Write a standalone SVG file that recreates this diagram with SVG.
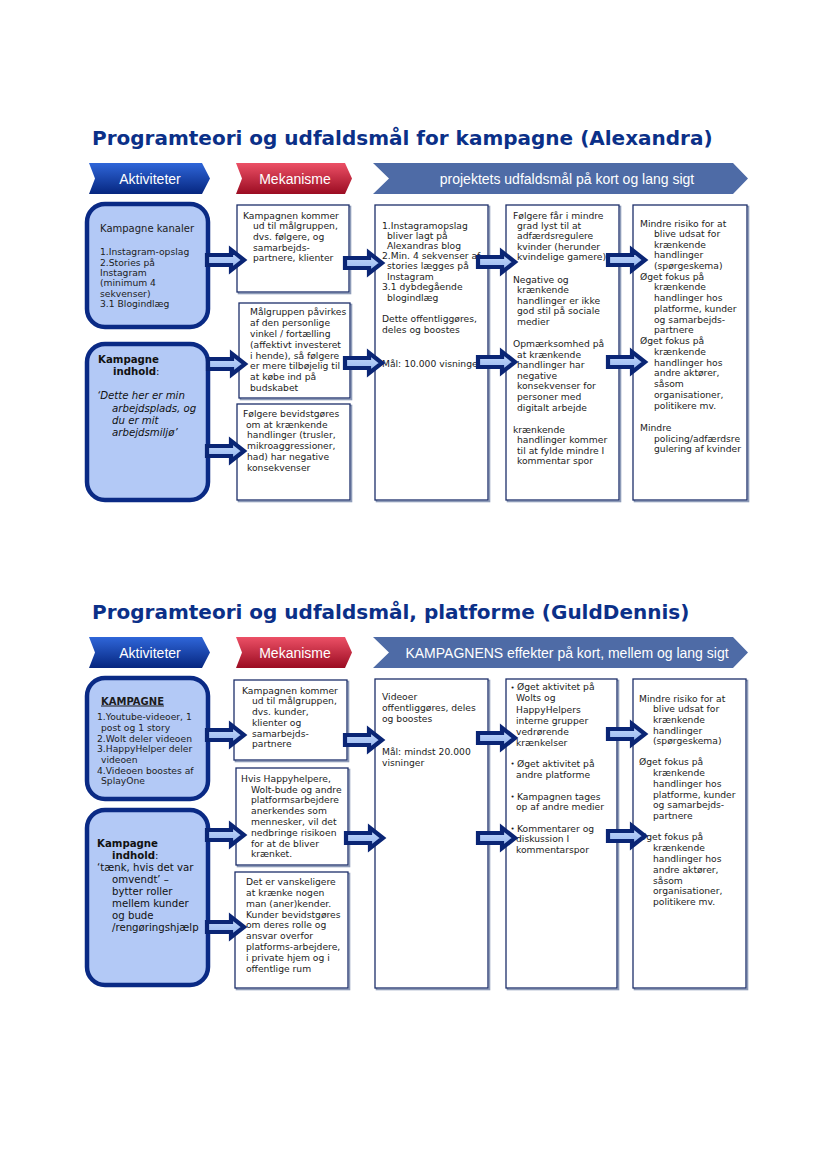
<svg xmlns="http://www.w3.org/2000/svg" xmlns:xlink="http://www.w3.org/1999/xlink" width="827" height="1169" viewBox="0 0 827 1169">
<style>
.title{font-family:"DejaVu Sans",Verdana,sans-serif;font-weight:bold;font-size:20px;fill:#0b3088}
.hdr{font-family:"Liberation Sans",Arial,sans-serif;font-size:14px;fill:#ffffff;text-anchor:middle}
.t{font-family:"DejaVu Sans",Verdana,sans-serif;font-size:9.2px;fill:#1c1c1c}
.tl{font-family:"DejaVu Sans",Verdana,sans-serif;font-size:10.2px;fill:#111111}
.tk{font-family:"DejaVu Sans",Verdana,sans-serif;font-size:10px;fill:#1c1c1c}
.bu{font-family:"DejaVu Sans",Verdana,sans-serif;font-size:7px;fill:#1c1c1c}
.b{font-weight:bold}
.i{font-style:italic}
.rbox{fill:#b3c9f6;stroke:#0a2a85;stroke-width:4.5}
.box{fill:#ffffff;stroke:#1d2f6a;stroke-width:1.3}
.shd{fill:none;stroke:#8d9bb8;stroke-width:1.6}
.arr{fill:url(#gArr);stroke:#0a2575;stroke-width:4.2;stroke-linejoin:miter}
</style>
<defs>
<linearGradient id="gBlue" x1="0" y1="0" x2="0" y2="1">
<stop offset="0" stop-color="#2f66d9"/><stop offset="1" stop-color="#06267f"/>
</linearGradient>
<linearGradient id="gRed" x1="0" y1="0" x2="0" y2="1">
<stop offset="0" stop-color="#ec5066"/><stop offset="1" stop-color="#9b0c22"/>
</linearGradient>
<linearGradient id="gArr" x1="0" y1="0" x2="0" y2="1">
<stop offset="0" stop-color="#c6dafc"/><stop offset="1" stop-color="#93b4ee"/>
</linearGradient>
<path id="ba" class="arr" d="M0,-5 H24 V-10.2 L37,0 L24,10.2 V5 H0 Z"/>
</defs>
<rect width="827" height="1169" fill="#ffffff"/>

<!-- ============ TOP SECTION ============ -->
<text class="title" x="92" y="145">Programteori og udfaldsmål for kampagne (Alexandra)</text>
<g id="hdr1">
<polygon points="89,163 202,163 210,178.5 202,194 89,194 95,178.5" fill="url(#gBlue)"/>
<text class="hdr" x="150" y="184">Aktiviteter</text>
<polygon points="236,163 345,163 352,178.5 345,194 236,194 242,178.5" fill="url(#gRed)"/>
<text class="hdr" x="295" y="184">Mekanisme</text>
<polygon points="373,163 733,163 748,178.5 733,194 373,194 389,178.5" fill="#4e6ba6"/>
<text class="hdr" x="567" y="184">projektets udfaldsmål på kort og lang sigt</text>
</g>

<g id="t_kanaler">
<rect class="rbox" x="87" y="204" width="121" height="123" rx="18"/>
<text class="tk" x="100" y="232">Kampagne kanaler</text>
<text class="t" x="100" y="255">1.Instagram-opslag</text>
<text class="t" x="100" y="265.5">2.Stories på</text>
<text class="t" x="100" y="275.8">Instagram</text>
<text class="t" x="100" y="286.2">(minimum 4</text>
<text class="t" x="100" y="296.5">sekvenser)</text>
<text class="t" x="100" y="307">3.1 Blogindlæg</text>
</g>

<g id="t_indhold">
<rect class="rbox" x="87" y="344" width="121" height="156" rx="18"/>
<text class="tl b" x="98" y="363">Kampagne</text>
<text class="tl" x="113" y="375"><tspan class="b">indhold</tspan>:</text>
<text class="tl i" x="97" y="399">‘Dette her er min</text>
<text class="tl i" x="112" y="411.5">arbejdsplads, og</text>
<text class="tl i" x="112" y="423.5">du er mit</text>
<text class="tl i" x="112" y="435.5">arbejdsmiljø’</text>
</g>

<g id="t_mek1">
<rect class="shd" x="238.5" y="206.5" width="112" height="87"/>
<rect class="box" x="237" y="205" width="112" height="87"/>
<text class="t" x="243" y="218.5">Kampagnen kommer</text>
<text class="t" x="253" y="229.2">ud til målgruppen,</text>
<text class="t" x="253" y="239.9">dvs. følgere, og</text>
<text class="t" x="253" y="250.6">samarbejds-</text>
<text class="t" x="253" y="261.3">partnere, klienter</text>
</g>

<g id="t_mek2">
<rect class="shd" x="240.5" y="304.5" width="111" height="95"/>
<rect class="box" x="239" y="303" width="111" height="95"/>
<text class="t" x="250" y="315.3">Målgruppen påvirkes</text>
<text class="t" x="250" y="326.1">af den personlige</text>
<text class="t" x="250" y="336.9">vinkel / fortælling</text>
<text class="t" x="250" y="347.7">(affektivt investeret</text>
<text class="t" x="250" y="358.5">i hende), så følgere</text>
<text class="t" x="250" y="369.3">er mere tilbøjelig til</text>
<text class="t" x="250" y="380.1">at købe ind på</text>
<text class="t" x="250" y="390.9">budskabet</text>
</g>

<g id="t_mek3">
<rect class="shd" x="238.5" y="405.5" width="113" height="96"/>
<rect class="box" x="237" y="404" width="113" height="96"/>
<text class="t" x="243" y="416.8">Følgere bevidstgøres</text>
<text class="t" x="246" y="427.6">om at krænkende</text>
<text class="t" x="247" y="438.4">handlinger (trusler,</text>
<text class="t" x="247" y="449.2">mikroaggressioner,</text>
<text class="t" x="247" y="460">had) har negative</text>
<text class="t" x="247" y="470.8">konsekvenser</text>
</g>

<g id="t_col3">
<rect class="shd" x="376.5" y="206.5" width="113" height="295"/>
<rect class="box" x="375" y="205" width="113" height="295"/>
<text class="t" x="382" y="228.5">1.Instagramopslag</text>
<text class="t" x="387" y="238.5">bliver lagt på</text>
<text class="t" x="387" y="248.5">Alexandras blog</text>
<text class="t" x="382" y="259">2.Min. 4 sekvenser af</text>
<text class="t" x="387" y="269">stories lægges på</text>
<text class="t" x="387" y="279.5">Instagram</text>
<text class="t" x="382" y="290">3.1 dybdegående</text>
<text class="t" x="387" y="300.5">blogindlæg</text>
<text class="t" x="382" y="322">Dette offentliggøres,</text>
<text class="t" x="382" y="332.5">deles og boostes</text>
<text class="t" x="382" y="366.5">Mål: 10.000 visninger</text>
</g>

<g id="t_col4">
<rect class="shd" x="507.5" y="206.5" width="113" height="295"/>
<rect class="box" x="506" y="205" width="113" height="295"/>
<text class="t" x="513" y="218.5">Følgere får i mindre</text>
<text class="t" x="517" y="228.5">grad lyst til at</text>
<text class="t" x="517" y="238.8">adfærdsregulere</text>
<text class="t" x="517" y="249.5">kvinder (herunder</text>
<text class="t" x="517" y="260">kvindelige gamere)</text>
<text class="t" x="513" y="283">Negative og</text>
<text class="t" x="517" y="293.3">krænkende</text>
<text class="t" x="517" y="303.7">handlinger er ikke</text>
<text class="t" x="517" y="314.2">god stil på sociale</text>
<text class="t" x="517" y="324.8">medier</text>
<text class="t" x="513" y="347">Opmærksomhed på</text>
<text class="t" x="517" y="357.5">at krænkende</text>
<text class="t" x="517" y="368">handlinger har</text>
<text class="t" x="517" y="378.7">negative</text>
<text class="t" x="517" y="389.3">konsekvenser for</text>
<text class="t" x="517" y="400">personer med</text>
<text class="t" x="517" y="410.7">digitalt arbejde</text>
<text class="t" x="513" y="433">krænkende</text>
<text class="t" x="517" y="443.3">handlinger kommer</text>
<text class="t" x="517" y="453.8">til at fylde mindre I</text>
<text class="t" x="517" y="464.4">kommentar spor</text>
</g>

<g id="t_col5">
<rect class="shd" x="634.5" y="206.5" width="114" height="295"/>
<rect class="box" x="633" y="205" width="114" height="295"/>
<text class="t" x="640" y="226.8">Mindre risiko for at</text>
<text class="t" x="654" y="237.2">blive udsat for</text>
<text class="t" x="654" y="247.8">krænkende</text>
<text class="t" x="654" y="258.4">handlinger</text>
<text class="t" x="654" y="269">(spørgeskema)</text>
<text class="t" x="640" y="279.6">Øget fokus på</text>
<text class="t" x="654" y="290.4">krænkende</text>
<text class="t" x="654" y="301.2">handlinger hos</text>
<text class="t" x="654" y="311.8">platforme, kunder</text>
<text class="t" x="654" y="322.5">og samarbejds-</text>
<text class="t" x="654" y="333.2">partnere</text>
<text class="t" x="640" y="344">Øget fokus på</text>
<text class="t" x="654" y="354.8">krænkende</text>
<text class="t" x="654" y="365.5">handlinger hos</text>
<text class="t" x="654" y="376.2">andre aktører,</text>
<text class="t" x="654" y="387">såsom</text>
<text class="t" x="654" y="397.8">organisationer,</text>
<text class="t" x="654" y="408.6">politikere mv.</text>
<text class="t" x="640" y="431">Mindre</text>
<text class="t" x="654" y="441.7">policing/adfærdsre</text>
<text class="t" x="654" y="452.4">gulering af kvinder</text>
</g>

<!-- ============ BOTTOM SECTION ============ -->
<text class="title" x="92" y="619">Programteori og udfaldsmål, platforme (GuldDennis)</text>
<g id="hdr2">
<polygon points="89,637 202,637 210,652.5 202,668 89,668 95,652.5" fill="url(#gBlue)"/>
<text class="hdr" x="150" y="658">Aktiviteter</text>
<polygon points="236,637 345,637 352,652.5 345,668 236,668 242,652.5" fill="url(#gRed)"/>
<text class="hdr" x="295" y="658">Mekanisme</text>
<polygon points="373,637 733,637 748,652.5 733,668 373,668 389,652.5" fill="#4e6ba6"/>
<text class="hdr" x="567" y="658">KAMPAGNENS effekter på kort, mellem og lang sigt</text>
</g>

<g id="b_kampagne">
<rect class="rbox" x="87" y="678" width="121" height="121" rx="18"/>
<text class="tk b" x="101" y="704.5" text-decoration="underline">KAMPAGNE</text>
<text class="t" x="97" y="720">1.Youtube-videoer, 1</text>
<text class="t" x="101" y="730.8">post og 1 story</text>
<text class="t" x="97" y="741.6">2.Wolt deler videoen</text>
<text class="t" x="97" y="752.4">3.HappyHelper deler</text>
<text class="t" x="101" y="763">videoen</text>
<text class="t" x="97" y="773.6">4.Videoen boostes af</text>
<text class="t" x="101" y="784.2">SplayOne</text>
</g>

<g id="b_indhold">
<rect class="rbox" x="87" y="810" width="121" height="175" rx="18"/>
<text class="tl b" x="97" y="847">Kampagne</text>
<text class="tl" x="112" y="859"><tspan class="b">indhold</tspan>:</text>
<text class="tl" x="97" y="871">‘tænk, hvis det var</text>
<text class="tl" x="112" y="883">omvendt’ –</text>
<text class="tl" x="112" y="895">bytter roller</text>
<text class="tl" x="112" y="907">mellem kunder</text>
<text class="tl" x="112" y="919">og bude</text>
<text class="tl" x="112" y="931">/rengøringshjælp</text>
</g>

<g id="b_mek1">
<rect class="shd" x="235.5" y="681.5" width="113" height="80"/>
<rect class="box" x="234" y="680" width="113" height="80"/>
<text class="t" x="242" y="693.5">Kampagnen kommer</text>
<text class="t" x="252" y="704.2">ud til målgruppen,</text>
<text class="t" x="252" y="715">dvs. kunder,</text>
<text class="t" x="252" y="725.8">klienter og</text>
<text class="t" x="252" y="736.6">samarbejds-</text>
<text class="t" x="252" y="747.4">partnere</text>
</g>

<g id="b_mek2">
<rect class="shd" x="237.5" y="769.5" width="112" height="97"/>
<rect class="box" x="236" y="768" width="112" height="97"/>
<text class="t" x="241" y="781.8">Hvis Happyhelpere,</text>
<text class="t" x="251" y="792.6">Wolt-bude og andre</text>
<text class="t" x="251" y="803.4">platformsarbejdere</text>
<text class="t" x="251" y="814.2">anerkendes som</text>
<text class="t" x="251" y="825">mennesker, vil det</text>
<text class="t" x="251" y="835.8">nedbringe risikoen</text>
<text class="t" x="251" y="846.6">for at de bliver</text>
<text class="t" x="251" y="857.4">krænket.</text>
</g>

<g id="b_mek3">
<rect class="shd" x="236.5" y="873.5" width="113" height="116"/>
<rect class="box" x="235" y="872" width="113" height="116"/>
<text class="t" x="246" y="885.2">Det er vanskeligere</text>
<text class="t" x="246" y="896">at krænke nogen</text>
<text class="t" x="246" y="906.8">man (aner)kender.</text>
<text class="t" x="246" y="917.6">Kunder bevidstgøres</text>
<text class="t" x="246" y="928.4">om deres rolle og</text>
<text class="t" x="246" y="939.2">ansvar overfor</text>
<text class="t" x="246" y="950">platforms-arbejdere,</text>
<text class="t" x="246" y="960.8">i private hjem og i</text>
<text class="t" x="246" y="971.6">offentlige rum</text>
</g>

<g id="b_col3">
<rect class="shd" x="376.5" y="680.5" width="113" height="309"/>
<rect class="box" x="375" y="679" width="113" height="309"/>
<text class="t" x="382" y="700.2">Videoer</text>
<text class="t" x="382" y="711.2">offentliggøres, deles</text>
<text class="t" x="382" y="722.2">og boostes</text>
<text class="t" x="382" y="755.2">Mål: mindst 20.000</text>
<text class="t" x="382" y="766.4">visninger</text>
</g>

<g id="b_col4">
<rect class="shd" x="507.5" y="680.5" width="111" height="309"/>
<rect class="box" x="506" y="679" width="111" height="309"/>
<text class="bu" x="510.5" y="689.5">•</text>
<text class="t" x="517" y="690.2">Øget aktivitet på</text>
<text class="t" x="516" y="701.4">Wolts og</text>
<text class="t" x="516" y="712.6">HappyHelpers</text>
<text class="t" x="516" y="723.8">interne grupper</text>
<text class="t" x="516" y="734.8">vedrørende</text>
<text class="t" x="516" y="745.6">krænkelser</text>
<text class="bu" x="510.5" y="766.1">•</text>
<text class="t" x="517" y="766.8">Øget aktivitet på</text>
<text class="t" x="516" y="777.8">andre platforme</text>
<text class="bu" x="510.5" y="798.8">•</text>
<text class="t" x="517" y="799.5">Kampagnen tages</text>
<text class="t" x="516" y="810.3">op af andre medier</text>
<text class="bu" x="510.5" y="831.1">•</text>
<text class="t" x="517" y="831.8">Kommentarer og</text>
<text class="t" x="516" y="842.4">diskussion I</text>
<text class="t" x="516" y="853">kommentarspor</text>
</g>

<g id="b_col5">
<rect class="shd" x="634.5" y="680.5" width="113" height="309"/>
<rect class="box" x="633" y="679" width="113" height="309"/>
<text class="t" x="639" y="701.8">Mindre risiko for at</text>
<text class="t" x="653" y="712.2">blive udsat for</text>
<text class="t" x="653" y="722.8">krænkende</text>
<text class="t" x="653" y="733.5">handlinger</text>
<text class="t" x="653" y="744.2">(spørgeskema)</text>
<text class="t" x="639" y="765.2">Øget fokus på</text>
<text class="t" x="653" y="776">krænkende</text>
<text class="t" x="653" y="786.8">handlinger hos</text>
<text class="t" x="653" y="797.6">platforme, kunder</text>
<text class="t" x="653" y="808.4">og samarbejds-</text>
<text class="t" x="653" y="819.2">partnere</text>
<text class="t" x="639" y="840.2">Øget fokus på</text>
<text class="t" x="653" y="851.2">krænkende</text>
<text class="t" x="653" y="862">handlinger hos</text>
<text class="t" x="653" y="872.8">andre aktører,</text>
<text class="t" x="653" y="883.6">såsom</text>
<text class="t" x="653" y="894.4">organisationer,</text>
<text class="t" x="653" y="905.2">politikere mv.</text>
</g>

<!-- ============ CONNECTORS ============ -->
<g id="connectors">
<use xlink:href="#ba" x="207" y="260"/>
<use xlink:href="#ba" x="208" y="364"/>
<use xlink:href="#ba" x="207" y="451"/>
<use xlink:href="#ba" x="345" y="263"/>
<use xlink:href="#ba" x="345" y="363"/>
<use xlink:href="#ba" x="478" y="262"/>
<use xlink:href="#ba" x="478" y="362"/>
<use xlink:href="#ba" x="608" y="260"/>
<use xlink:href="#ba" x="608" y="362"/>

<use xlink:href="#ba" x="207" y="735"/>
<use xlink:href="#ba" x="207" y="835"/>
<use xlink:href="#ba" x="207" y="927"/>
<use xlink:href="#ba" x="345" y="740"/>
<use xlink:href="#ba" x="346" y="838"/>
<use xlink:href="#ba" x="478" y="738"/>
<use xlink:href="#ba" x="478" y="838"/>
<use xlink:href="#ba" x="608" y="734"/>
<use xlink:href="#ba" x="608" y="836"/>
</g>
</svg>
